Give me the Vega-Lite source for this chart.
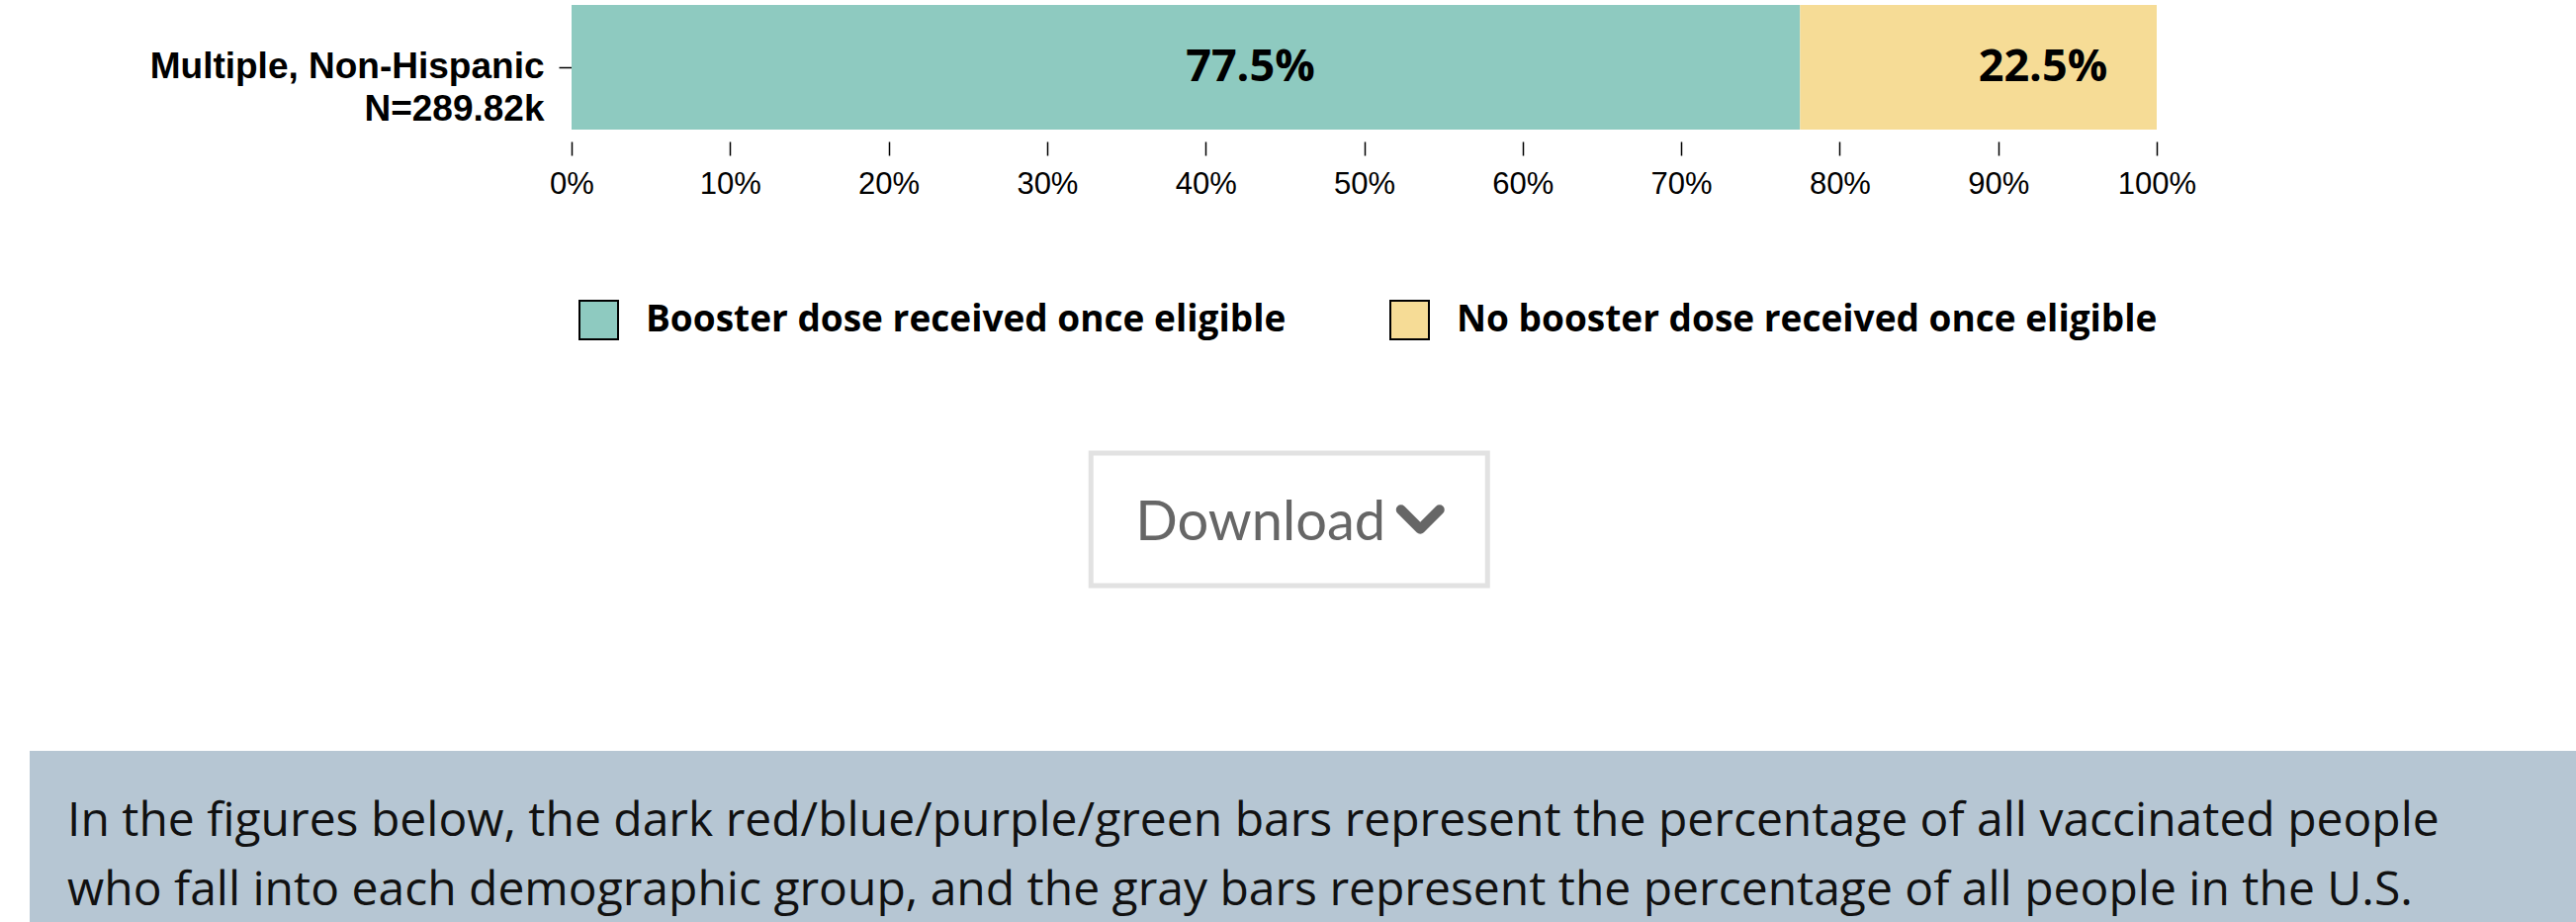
{
  "$schema": "https://vega.github.io/schema/vega-lite/v6.json",
  "padding": {"left": 30, "top": 5, "right": -184, "bottom": 0},
  "background": "white",
  "config": {"view": {"stroke": null}},
  "columns": 1,
  "spacing": 101,
  "bounds": "full",
  "align": {"row": "none", "column": "each"},
  "center": true,
  "resolve": {"legend": {"color": "independent"}, "scale": {"x": "independent", "y": "independent", "color": "independent"}},
  "concat": [
    {
      "width": 1603,
      "height": 126,
      "data": {"values": [
        {"category": "Multiple, Non-Hispanic\nN=289.82k", "status": "Booster dose received once eligible", "share": 0.775},
        {"category": "Multiple, Non-Hispanic\nN=289.82k", "status": "No booster dose received once eligible", "share": 0.225}
      ]},
      "transform": [
        {"stack": "share", "groupby": ["category"], "sort": [{"field": "status", "order": "ascending"}], "as": ["x0", "x1"]},
        {"calculate": "(datum.x0 + datum.x1) / 2", "as": "mid"}
      ],
      "resolve": {"axis": {"y": "independent"}},
      "layer": [
        {
          "mark": {"type": "bar"},
          "encoding": {
            "y": {
              "field": "category", "type": "nominal",
              "scale": {"paddingInner": 0, "paddingOuter": 0},
              "axis": {
                "title": null, "domain": false, "ticks": true, "tickSize": 13, "tickColor": "#000", "tickWidth": 1.5,
                "labelPadding": 15, "labelFont": "Liberation Sans", "labelFontWeight": "bold", "labelFontSize": 37,
                "labelColor": "#000", "labelLineHeight": 43, "labelLimit": 2000,
                "labelExpr": "split(datum.label, '\\n')", "minExtent": 548, "maxExtent": 548
              }
            },
            "x": {
              "field": "x0", "type": "quantitative",
              "scale": {"domain": [0, 1], "nice": false},
              "axis": {
                "title": null, "values": [0, 0.1, 0.2, 0.3, 0.4, 0.5, 0.6, 0.7, 0.8, 0.9, 1],
                "format": ".0%", "domain": false, "grid": false, "tickSize": 14, "tickColor": "#000", "tickWidth": 1.5,
                "offset": 12, "labelPadding": 14, "labelFont": "Liberation Sans", "labelFontSize": 31,
                "labelColor": "#000", "labelFlush": false, "labelOverlap": false
              }
            },
            "x2": {"field": "x1"},
            "color": {
              "field": "status", "type": "nominal",
              "scale": {"domain": ["Booster dose received once eligible", "No booster dose received once eligible"], "range": ["#8ecac0", "#f6dc96"]},
              "legend": {
                "orient": "bottom", "direction": "horizontal", "title": null,
                "symbolType": "square", "symbolSize": 1521, "symbolStrokeColor": "#000", "symbolStrokeWidth": 2,
                "symbolOpacity": 1, "labelFont": "Open Sans", "labelFontWeight": "bold", "labelFontSize": 37,
                "labelColor": "#000", "labelLimit": 2000, "labelOffset": 27, "columnPadding": 101,
                "offset": 95, "padding": 7
              }
            }
          }
        },
        {
          "mark": {"type": "text", "align": "left", "baseline": "middle", "font": "Open Sans", "fontWeight": "bold", "fontSize": 45, "color": "#000"},
          "encoding": {
            "y": {
              "field": "category", "type": "nominal",
              "axis": {"orient": "right", "labels": false, "ticks": false, "domain": false, "grid": false, "title": null, "minExtent": 60, "maxExtent": 60}
            },
            "x": {"field": "mid", "type": "quantitative"},
            "text": {"field": "share", "type": "quantitative", "format": ".1%"}
          }
        }
      ]
    },
    {
      "width": 401,
      "height": 134,
      "view": {"stroke": "#e2e2e2", "strokeWidth": 5, "fill": "#ffffff"},
      "data": {"values": [{"label": "Download"}]},
      "encoding": {
        "x": {"field": "label", "type": "nominal", "axis": {"orient": "bottom", "labels": false, "ticks": false, "domain": false, "grid": false, "title": null, "minExtent": 63, "maxExtent": 63}},
        "y": {"field": "label", "type": "nominal", "axis": {"orient": "right", "labels": false, "ticks": false, "domain": false, "grid": false, "title": null, "minExtent": 209, "maxExtent": 209}}
      },
      "layer": [
        {
          "mark": {"type": "text", "font": "Lato", "fontSize": 56, "color": "#666666", "align": "center", "baseline": "alphabetic", "dx": -29, "dy": 21},
          "encoding": {"text": {"field": "label"}}
        },
        {
          "mark": {"type": "point", "shape": "M5.795,-0.5L6.795,0.5L7.795,-0.5", "size": 1521, "filled": false, "stroke": "#666666", "strokeWidth": 10, "strokeCap": "round", "strokeJoin": "round", "opacity": 1}
        }
      ]
    },
    {
      "width": 2575,
      "height": 173,
      "view": {"fill": "#b6c6d3", "stroke": null},
      "data": {"values": [{"note": "In the figures below, the dark red/blue/purple/green bars represent the percentage of all vaccinated people\nwho fall into each demographic group, and the gray bars represent the percentage of all people in the U.S."}]},
      "mark": {"type": "text", "lineBreak": "\n", "align": "left", "baseline": "alphabetic", "font": "Open Sans", "fontSize": 48, "lineHeight": 70, "color": "#111111", "dx": -1249.5, "dy": -0.5},
      "encoding": {
        "text": {"field": "note"},
        "y": {"field": "note", "type": "nominal", "axis": {"orient": "right", "labels": false, "ticks": false, "domain": false, "grid": false, "title": null, "minExtent": 184, "maxExtent": 184}}
      }
    }
  ]
}
